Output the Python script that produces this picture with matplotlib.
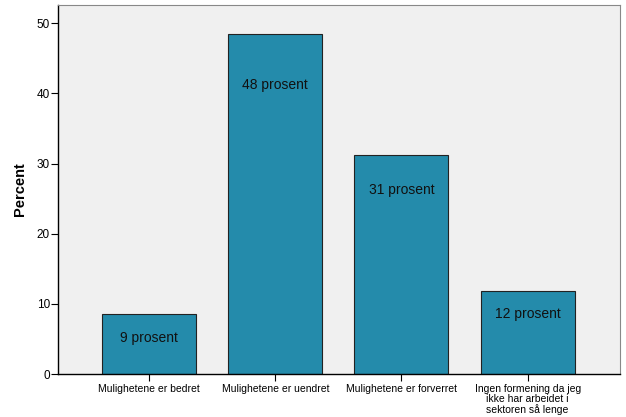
import matplotlib.pyplot as plt

plt.rcParams['font.family'] = ['Liberation Sans', 'DejaVu Sans']

# Data
categories = ['Mulighetene er bedret', 'Mulighetene er uendret',
              'Mulighetene er forverret',
              'Ingen formening da jeg\nikke har arbeidet i\nsektoren så lenge']
percent = [8.6, 48.4, 31.2, 11.9]
bar_labels = ['9 prosent', '48 prosent', '31 prosent', '12 prosent']
label_drop = [3.4, 7.2, 5.0, 3.3]  # how far below bar top the label sits

fig = plt.figure(figsize=(6.26, 4.17), dpi=100)
ax = fig.add_axes([0.093, 0.103, 0.897, 0.885])
ax.set_facecolor('#F0F0F0')

x = range(len(categories))
ax.bar(x, percent, width=0.745, color='#248BAB', edgecolor='#222222', linewidth=0.8)

for i, (v, lab, d) in enumerate(zip(percent, bar_labels, label_drop)):
    ax.text(i, v - d, lab, ha='center', va='center', fontsize=10, color='#111111')

ax.set_xlim(-0.72, 3.73)
ax.set_ylim(0, 52.6)
ax.set_yticks([0, 10, 20, 30, 40, 50])
ax.set_xticks(list(x))
ax.set_xticklabels(categories, fontsize=7.5, linespacing=1.0)
ax.tick_params(axis='y', labelsize=8.5, length=5, width=0.8, pad=1)
ax.tick_params(axis='x', length=5, width=0.8, pad=2)
ax.set_ylabel('Percent', fontsize=10.5, fontweight='bold', labelpad=7)

for s in ['left', 'bottom']:
    ax.spines[s].set_color('black')
    ax.spines[s].set_linewidth(1.0)
for s in ['top', 'right']:
    ax.spines[s].set_color('#888888')
    ax.spines[s].set_linewidth(0.8)

fig.savefig('out.png', dpi=100)
